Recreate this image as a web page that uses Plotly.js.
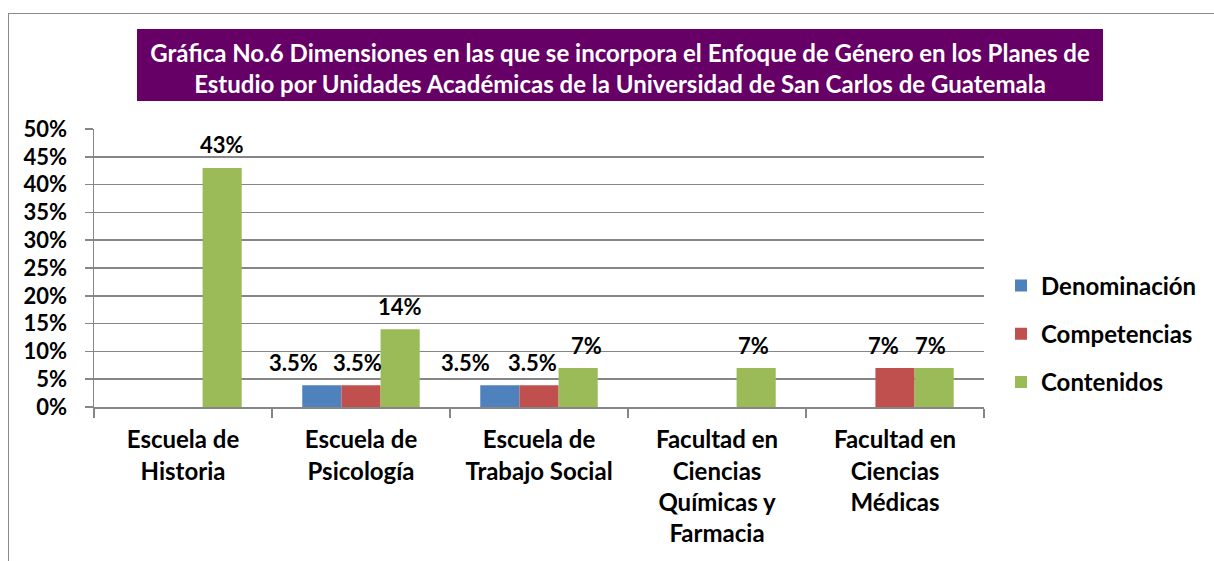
<!DOCTYPE html>
<html>
<head>
<meta charset="utf-8">
<script src="https://cdn.plot.ly/plotly-3.0.1.min.js"></script>
<style>
  html, body { margin: 0; padding: 0; background: #fff; }
  #wrap { position: relative; width: 1214px; height: 561px; overflow: hidden; }
  #frame { position: absolute; left: 8px; top: 13px; width: 1300px; height: 700px;
           border-left: 1.5px solid #8a8a8a; border-top: 1.5px solid #8a8a8a; }
  #chart { position: absolute; left: 0; top: 0; width: 1214px; height: 561px; }
</style>
</head>
<body>
<div id="wrap">
  <div id="frame"></div>
  <div id="chart"></div>
</div>
<script>
// ---- data ----
const categories = [
  "Escuela de<br>Historia",
  "Escuela de<br>Psicología",
  "Escuela de<br>Trabajo Social",
  "Facultad en<br>Ciencias<br>Químicas y<br>Farmacia",
  "Facultad en<br>Ciencias<br>Médicas"
];
const seriesNames = ["Denominación", "Competencias", "Contenidos"];
const denominacion = [null, 3.9, 3.9, null, null];
const competencias = [null, 3.9, 3.9, null, 7];
const contenidos   = [43, 14, 7, 7, 7];
const denominacionLabels = ["", "3.5%", "3.5%", "", ""];
const competenciasLabels = ["", "3.5%", "3.5%", "", "7%"];
const contenidosLabels   = ["43%", "14%", "7%", "7%", "7%"];
const yTickVals = [0, 5, 10, 15, 20, 25, 30, 35, 40, 45, 50];
const yTickText = ["0%", "5%", "10%", "15%", "20%", "25%", "30%", "35%", "40%", "45%", "50%"];
const titleText = "Gráfica No.6 Dimensiones en las que se incorpora el Enfoque de Género en los Planes de<br>Estudio por Unidades Académicas de la Universidad de San Carlos de Guatemala";

// ---- styles ----
const colors = ["#4F81BD", "#C0504D", "#9BBB59"];
const FONT = "Lato, 'Liberation Sans', sans-serif";
const series = [denominacion, competencias, contenidos];
const labels = [denominacionLabels, competenciasLabels, contenidosLabels];
// horizontal label offsets (px from category centre), per series / category
const labelShift = [
  [-68, -68, -74, -68, -68],
  [-4, -4, -7, -4, -12],
  [39, 39, 47, 36, 35]
];

const traces = series.map((vals, k) => ({
  type: "bar",
  name: seriesNames[k],
  x: categories,
  y: vals,
  marker: { color: colors[k], line: { width: 0 } },
  legendgroup: "g" + k,
  hoverinfo: "skip"
}));

const annotations = [];
series.forEach((vals, k) => {
  vals.forEach((v, i) => {
    if (v === null || !labels[k][i]) return;
    annotations.push({
      x: categories[i], y: v, xref: "x", yref: "y",
      text: labels[k][i], showarrow: false,
      xanchor: "center", yanchor: "middle",
      xshift: labelShift[k][i], yshift: 23,
      font: { family: FONT, size: 22, color: "#000", weight: 700 }
    });
  });
});

const layout = {
  width: 1214, height: 561,
  margin: { l: 94, r: 230, t: 129, b: 154, pad: 0 },
  paper_bgcolor: "rgba(0,0,0,0)",
  plot_bgcolor: "rgba(0,0,0,0)",
  barmode: "group",
  bargap: 0.34,
  bargroupgap: 0,
  showlegend: true,
  font: { family: FONT, color: "#000" },
  title: {
    text: titleText,
    font: { family: FONT, size: 24, color: "#ffffff", weight: 700 },
    xref: "container", yref: "container",
    x: 620 / 1214, xanchor: "center",
    y: 1 - 62 / 561, yanchor: "middle"
  },
  shapes: [{
    type: "rect", xref: "paper", yref: "paper",
    x0: (137 - 94) / 890, x1: (1103 - 94) / 890,
    y0: (407 - 101) / 278, y1: (407 - 29) / 278,
    fillcolor: "#660066", line: { width: 0 }, layer: "above"
  }],
  xaxis: {
    type: "category",
    tickson: "boundaries",
    ticks: "outside", ticklen: 9, tickcolor: "#868686", tickwidth: 1.5,
    showline: true, linecolor: "#868686", linewidth: 1.5,
    showgrid: false,
    tickfont: { family: FONT, size: 24, color: "#000", weight: 700 },
    ticklabelstandoff: 11,
    fixedrange: true
  },
  yaxis: {
    range: [0, 50],
    tickvals: yTickVals, ticktext: yTickText,
    ticks: "outside", ticklen: 8, tickcolor: "#868686", tickwidth: 1.5,
    showline: true, linecolor: "#868686", linewidth: 1.5,
    showgrid: true, gridcolor: "#868686", gridwidth: 1.5,
    zeroline: false,
    tickfont: { family: FONT, size: 22, color: "#000", weight: 700 },
    ticklabelstandoff: 13,
    fixedrange: true
  },
  legend: {
    x: (1001 - 94) / 890, xanchor: "left",
    y: (407 - 334) / 278, yanchor: "middle",
    traceorder: "grouped",
    tracegroupgap: 14,
    font: { family: FONT, size: 24, color: "#000", weight: 700 },
    bgcolor: "rgba(0,0,0,0)",
    itemclick: false, itemdoubleclick: false
  },
  annotations: annotations
};

Plotly.newPlot("chart", traces, layout, { displayModeBar: false, staticPlot: true });
</script>
</body>
</html>
